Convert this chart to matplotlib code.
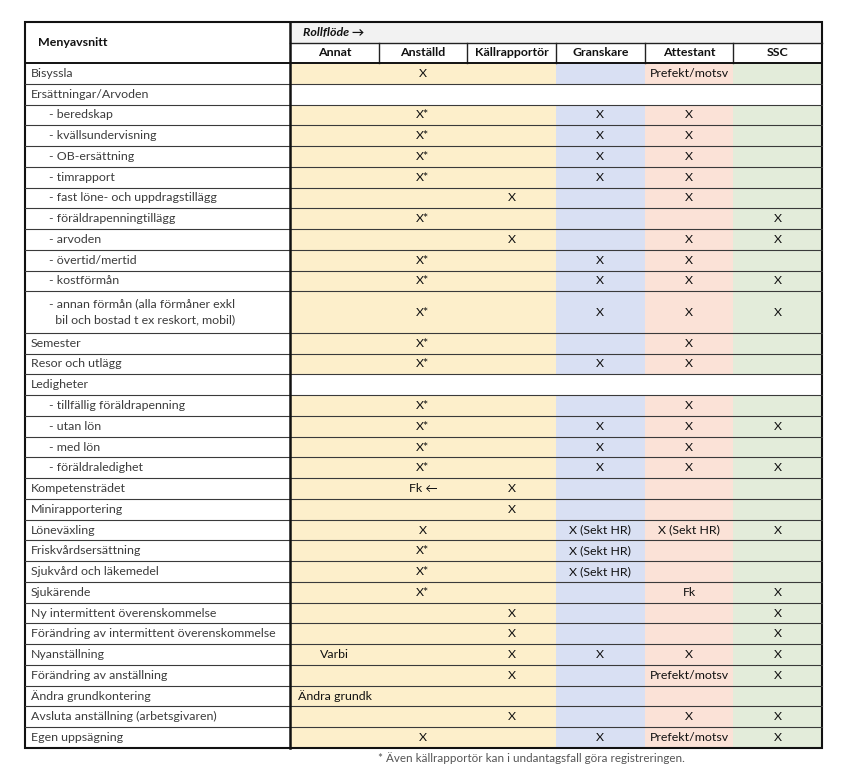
import matplotlib
matplotlib.use("Agg")
import matplotlib.pyplot as plt
from matplotlib.patches import Rectangle

plt.rcParams['font.family'] = ['Lato', 'DejaVu Sans']

# ---------------- data ----------------
columns = ["Annat", "Anställd", "Källrapportör", "Granskare", "Attestant", "SSC"]

labels = [
    "Bisyssla", "Ersättningar/Arvoden", "- beredskap", "- kvällsundervisning",
    "- OB-ersättning", "- timrapport", "- fast löne- och uppdragstillägg",
    "- föräldrapenningtillägg", "- arvoden", "- övertid/mertid", "- kostförmån",
    "- annan förmån (alla förmåner exkl\n  bil och bostad t ex reskort, mobil)",
    "Semester", "Resor och utlägg", "Ledigheter", "- tillfällig föräldrapenning",
    "- utan lön", "- med lön", "- föräldraledighet", "Kompetensträdet",
    "Minirapportering", "Löneväxling", "Friskvårdsersättning",
    "Sjukvård och läkemedel", "Sjukärende", "Ny intermittent överenskommelse",
    "Förändring av intermittent överenskommelse", "Nyanställning",
    "Förändring av anställning", "Ändra grundkontering",
    "Avsluta anställning (arbetsgivaren)", "Egen uppsägning",
]
section_rows = ["Ersättningar/Arvoden", "Ledigheter"]

annat = ["", "", "", "", "", "", "", "", "", "", "", "", "", "", "", "", "",
         "", "", "", "", "", "", "", "", "", "", "Varbi", "", "Ändra grundk", "", ""]
anstalld = ["X", "", "X*", "X*", "X*", "X*", "", "X*", "", "X*", "X*", "X*",
            "X*", "X*", "", "X*", "X*", "X*", "X*", "Fk ←", "", "X", "X*", "X*",
            "X*", "", "", "", "", "", "", "X"]
kallrapportor = ["", "", "", "", "", "", "X", "", "X", "", "", "", "", "", "",
                 "", "", "", "", "X", "X", "", "", "", "", "X", "X", "X", "X",
                 "", "X", ""]
granskare = ["", "", "X", "X", "X", "X", "", "", "", "X", "X", "X", "", "X",
             "", "", "X", "X", "X", "", "", "X (Sekt HR)", "X (Sekt HR)",
             "X (Sekt HR)", "", "", "", "X", "", "", "", "X"]
attestant = ["Prefekt/motsv", "", "X", "X", "X", "X", "X", "", "X", "X", "X",
             "X", "X", "X", "", "X", "X", "X", "X", "", "", "X (Sekt HR)", "",
             "", "Fk", "", "", "X", "Prefekt/motsv", "", "X", "Prefekt/motsv"]
ssc = ["", "", "", "", "", "", "", "X", "X", "", "X", "X", "", "", "", "", "X",
       "", "X", "", "", "X", "", "", "X", "X", "X", "X", "X", "", "X", "X"]

footnote = "* Även källrapportör kan i undantagsfall göra registreringen."

# ---------------- layout ----------------
W, H = 848, 776
fig = plt.figure(figsize=(W / 100, H / 100), dpi=100)
ax = fig.add_axes([0, 0, 1, 1])
ax.set_xlim(0, W)
ax.set_ylim(H, 0)
ax.axis("off")

x_left, x_lab, x_right = 25, 290, 822
col_w = (x_right - x_lab) / len(columns)
col_x = [x_lab + i * col_w for i in range(len(columns) + 1)]
y_top, y_h1, y_h2, y_end = 22, 43, 63, 748
heights = [2 if "\n" in l else 1 for l in labels]
unit = (y_end - y_h2) / sum(heights)

col_colors = ["#fdefcb", "#fdefcb", "#fdefcb", "#d9e0f3", "#fbe2d7", "#e3ecda"]
fs = 8.9
txt_col = "#3c3c3c"

# header
ax.add_patch(Rectangle((x_lab, y_top), x_right - x_lab, y_h1 - y_top,
                       facecolor="#f2f2f2", edgecolor="none"))
ax.text(38, (y_top + y_h2) / 2, "Menyavsnitt", fontsize=fs, fontweight="bold",
        va="center", ha="left", color="#111")
ax.text(x_lab + 13, (y_top + y_h1) / 2, "Rollflöde →", fontsize=fs,
        fontweight="bold", fontstyle="italic", va="center", ha="left", color="#111")
for i, c in enumerate(columns):
    ax.text((col_x[i] + col_x[i + 1]) / 2, (y_h1 + y_h2) / 2, c, fontsize=fs,
            fontweight="bold", va="center", ha="center", color="#111")
ax.plot([x_lab, x_right], [y_h1, y_h1], color="#222", lw=1.0)
for xv in col_x[1:-1]:
    ax.plot([xv, xv], [y_h1, y_h2], color="#222", lw=1.0)

# body
series = [annat, anstalld, kallrapportor, granskare, attestant, ssc]
y = y_h2
for r, lab in enumerate(labels):
    h = heights[r] * unit
    section = lab in section_rows
    for i in range(len(columns)):
        fc = "white" if section else col_colors[i]
        ax.add_patch(Rectangle((col_x[i], y), col_w + 0.5, h, facecolor=fc,
                               edgecolor="none"))
    indent = 49 if lab.startswith("-") else 31
    ax.text(indent, y + h / 2, lab, fontsize=fs, va="center", ha="left",
            color=txt_col, linespacing=1.55)
    for i, s in enumerate(series):
        v = s[r]
        if not v:
            continue
        if v == "Ändra grundk":
            ax.text(col_x[i] + 8, y + h / 2, v, fontsize=fs, va="center",
                    ha="left", color="#111")
        else:
            ax.text((col_x[i] + col_x[i + 1]) / 2, y + h / 2, v, fontsize=fs,
                    va="center", ha="center", color="#111")
    y += h
    if r < len(labels) - 1:
        ax.plot([x_left, x_right], [y, y], color="#3a3a3a", lw=0.8)
y_bot = y

# borders
ax.plot([x_left, x_right], [y_h2, y_h2], color="#111", lw=1.4)
ax.plot([x_lab, x_lab], [y_top, y_bot], color="#111", lw=1.8)
ax.add_patch(Rectangle((x_left, y_top), x_right - x_left, y_bot - y_top,
                       facecolor="none", edgecolor="#111", lw=1.5))

ax.text(531, 758, footnote, fontsize=8.4, va="center", ha="center", color="#555")

fig.savefig("out.png", dpi=100)
